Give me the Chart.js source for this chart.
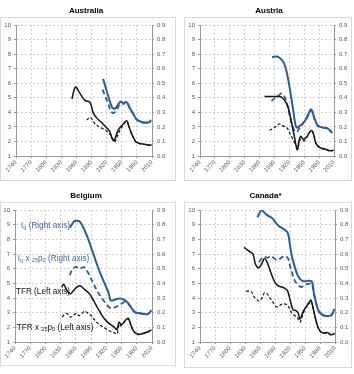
<!DOCTYPE html>
<html><head><meta charset="utf-8">
<script src="https://cdn.jsdelivr.net/npm/chart.js@4.4.1/dist/chart.umd.min.js"></script>
<style>
html,body{margin:0;padding:0;background:#fff;}
body{width:354px;height:374px;overflow:hidden;position:relative;font-family:"Liberation Sans",Arial,sans-serif;}
.box{position:absolute;border:1px solid #d9d9d9;box-sizing:border-box;}
canvas{position:absolute;}
</style></head><body>
<div class="box" style="left:0;top:17px;width:176px;height:164px"></div>
<div class="box" style="left:184px;top:17px;width:168px;height:164px"></div>
<div class="box" style="left:0;top:202px;width:176px;height:164px"></div>
<div class="box" style="left:184px;top:202px;width:168px;height:166px"></div>
<canvas id="c1" width="172" height="184" style="left:0;top:0"></canvas>
<canvas id="c2" width="170" height="184" style="left:184px;top:0"></canvas>
<canvas id="c3" width="172" height="184" style="left:0;top:185px"></canvas>
<canvas id="c4" width="177" height="184" style="left:177px;top:185px"></canvas>
<script>
// ---------- axis settings ----------
const yearMin = 1740, yearMax = 2010, yearStep = 30;
const leftMin = 1, leftMax = 10, leftStep = 1;
const rightMin = 0, rightMax = 0.9, rightStep = 0.1;
const panelTitles = ["Australia", "Austria", "Belgium", "Canada*"];

// ---------- Australia ----------
const ausTfrYears = [1851,1858,1867,1877,1887,1893,1900,1910,1917,1926,1931,1935,1943,1953,1960,1963,1970,1978,1986,1996,2006,2009];
const ausTfrValues = [4.92,5.74,5.3,4.82,4.68,4.0,3.62,3.3,3.05,2.7,2.17,2.05,2.8,3.2,3.43,3.15,2.5,1.98,1.86,1.8,1.74,1.8];
const ausTfrPYears = [1880,1888,1897,1907,1920,1930,1936,1944,1953,1960,1963,1970,1978,1986,1996,2006,2009];
const ausTfrPValues = [3.47,3.65,3.2,2.97,2.72,2.33,1.98,2.6,3.15,3.4,3.12,2.48,1.97,1.85,1.79,1.73,1.79];
const ausIgYears = [1913,1918,1924,1930,1934,1938,1943,1948,1953,1957,1961,1966,1972,1979,1988,1998,2004,2008];
const ausIgValues = [0.53,0.47,0.40,0.34,0.325,0.33,0.355,0.375,0.36,0.37,0.365,0.33,0.295,0.255,0.235,0.23,0.232,0.247];
const ausIgPYears = [1912,1917,1922,1927,1932,1936,1940,1945,1950,1953,1957,1961,1966,1972,1979,1988,1998,2004,2008];
const ausIgPValues = [0.457,0.41,0.37,0.32,0.295,0.3,0.32,0.35,0.37,0.358,0.367,0.362,0.327,0.292,0.252,0.232,0.227,0.229,0.244];

// ---------- Austria ----------
const autTfrYears = [1870,1880,1890,1900,1906,1912,1918,1925,1931,1936,1940,1943,1948,1955,1960,1965,1968,1974,1982,1992,2001,2009];
const autTfrValues = [5.08,5.08,5.08,5.08,5.0,4.75,4.3,3.2,2.2,1.42,2.1,2.35,2.15,2.3,2.6,2.75,2.6,1.85,1.57,1.48,1.37,1.4];
const autTfrPYears = [1880,1890,1900,1908,1915,1922,1928,1933,1937,1941,1946,1950,1955,1960,1965,1968,1974,1982,1992,2001,2009];
const autTfrPValues = [2.75,2.95,3.2,3.05,2.95,2.5,2.1,1.75,1.55,2.1,2.05,2.05,2.28,2.58,2.72,2.58,1.83,1.55,1.46,1.35,1.38];
const autIgYears = [1885,1895,1902,1908,1913,1918,1923,1928,1932,1935,1940,1946,1952,1958,1963,1966,1971,1977,1982,1990,1997,2002,2006];
const autIgValues = [0.68,0.683,0.67,0.645,0.6,0.52,0.42,0.31,0.22,0.195,0.205,0.22,0.245,0.285,0.32,0.31,0.255,0.21,0.2,0.195,0.19,0.175,0.16];
const autIgPYears = [1884,1892,1900,1904,1910,1916,1922,1928,1932,1936,1942,1948,1953,1958,1963,1966,1971,1977,1982,1990,1997,2002,2006];
const autIgPValues = [0.378,0.4,0.42,0.43,0.41,0.35,0.26,0.19,0.165,0.17,0.2,0.225,0.245,0.28,0.315,0.305,0.252,0.208,0.198,0.193,0.188,0.173,0.158];

// ---------- Belgium ----------
const belTfrYears = [1832,1836,1841,1846,1850,1855,1860,1867,1872,1878,1885,1892,1898,1904,1910,1917,1924,1930,1936,1941,1945,1949,1954,1958,1963,1967,1972,1978,1985,1993,2001,2009];
const belTfrValues = [4.76,4.93,4.6,4.35,4.3,4.5,4.68,4.83,4.75,4.55,4.35,4.0,3.62,3.25,2.9,2.55,2.3,2.15,2.0,1.85,2.35,2.2,2.3,2.5,2.62,2.3,1.85,1.6,1.52,1.6,1.68,1.82];
const belTfrPYears = [1833,1837,1842,1846,1850,1855,1861,1866,1871,1877,1884,1890,1897,1904,1910,1917,1924,1930,1936,1941,1945,1948,1952,1958,1963,1967,1972,1978,1985,1993,2001,2009];
const belTfrPValues = [2.7,2.85,2.95,2.8,2.7,2.82,2.95,2.8,2.9,3.1,2.95,2.8,2.5,2.25,2.1,1.95,1.8,1.7,1.62,1.55,2.2,2.1,2.25,2.45,2.58,2.27,1.83,1.58,1.5,1.58,1.66,1.8];
const belIgYears = [1848,1852,1857,1862,1867,1872,1878,1884,1890,1896,1902,1908,1914,1919,1924,1928,1933,1938,1943,1948,1953,1958,1963,1968,1973,1978,1984,1990,1996,2001,2005,2009];
const belIgValues = [0.78,0.8,0.825,0.827,0.823,0.8,0.755,0.705,0.645,0.585,0.525,0.47,0.42,0.38,0.34,0.285,0.283,0.29,0.295,0.297,0.29,0.28,0.265,0.24,0.215,0.2,0.198,0.195,0.19,0.19,0.2,0.218];
const belIgPYears = [1848,1852,1856,1861,1866,1871,1876,1881,1886,1891,1896,1901,1907,1914,1920,1926,1931,1936,1942,1947,1953,1958,1963,1968,1973,1978,1984,1990,1996,2001,2005,2009];
const belIgPValues = [0.455,0.49,0.505,0.512,0.5,0.505,0.51,0.49,0.46,0.422,0.39,0.353,0.32,0.285,0.26,0.235,0.23,0.235,0.245,0.255,0.268,0.275,0.262,0.238,0.213,0.198,0.196,0.193,0.188,0.188,0.198,0.216];

// ---------- Canada ----------
const canTfrYears = [1828,1834,1840,1846,1851,1857,1863,1869,1874,1880,1886,1892,1898,1904,1910,1915,1920,1926,1931,1936,1940,1946,1952,1958,1962,1966,1971,1976,1981,1988,1995,2001,2006,2009];
const canTfrValues = [7.45,7.3,7.15,7.0,6.3,6.05,6.3,6.7,6.45,5.9,5.35,4.95,4.8,4.75,4.65,4.5,3.9,3.2,3.15,3.0,2.55,3.05,3.4,3.7,3.85,3.35,2.6,2.0,1.72,1.6,1.65,1.5,1.52,1.6];
const canTfrPYears = [1832,1838,1843,1848,1853,1858,1863,1869,1874,1879,1885,1891,1896,1902,1908,1914,1919,1924,1929,1934,1940,1946,1952,1958,1962,1966,1971,1976,1981,1988,1995,2001,2006,2009];
const canTfrPValues = [4.47,4.47,4.42,4.1,3.9,3.8,3.95,4.35,4.3,4.05,3.75,3.45,3.4,3.55,3.6,3.55,3.3,2.95,2.8,2.7,2.35,2.9,3.35,3.62,3.78,3.32,2.58,1.98,1.7,1.58,1.63,1.48,1.5,1.58];
const canIgYears = [1855,1859,1863,1868,1874,1880,1886,1892,1898,1905,1911,1916,1920,1924,1929,1934,1940,1946,1952,1958,1964,1968,1972,1977,1983,1990,1997,2003,2009];
const canIgValues = [0.85,0.88,0.9,0.885,0.865,0.855,0.84,0.81,0.79,0.775,0.76,0.74,0.66,0.58,0.52,0.465,0.43,0.415,0.415,0.418,0.41,0.33,0.27,0.215,0.19,0.18,0.178,0.185,0.225];
const canIgPYears = [1858,1864,1869,1875,1881,1887,1893,1899,1905,1911,1916,1920,1925,1930,1936,1942,1948,1954,1960,1964,1968,1972,1977,1983,1990,1997,2003,2009];
const canIgPValues = [0.545,0.57,0.58,0.575,0.585,0.575,0.56,0.565,0.58,0.585,0.57,0.52,0.46,0.415,0.39,0.375,0.385,0.395,0.398,0.395,0.325,0.268,0.213,0.188,0.178,0.176,0.183,0.223];

// ---------- Belgium in-chart labels (anchored at the label's right end, in data units) ----------
const belLabelYears = [1848.5, 1886.5, 1848.5, 1894.5];
const belLabelValues = [8.93, 6.70, 4.42, 1.95];

const FONT = "'Liberation Sans', Arial, sans-serif";
const BLUE = '#2f5c95';
const BLUE_TEXT = '#47699a';
const BLACK = '#141414';
const TICK = '#595959';
const GRID = '#d2d2d2';
const AXIS = '#9a9a9a';

function pts(xs, ys){ return xs.map((x, i) => ({x: x, y: ys[i]})); }

function ds(xs, ys, axis, color, width, dash){
  return {data: pts(xs, ys), yAxisID: axis, borderColor: color, borderWidth: width,
    borderDash: dash, pointRadius: 0, fill: false, tension: 0.35, spanGaps: true};
}

function notesPlugin(items){
  return {
    id: 'notes',
    afterDatasetsDraw(chart){
      if (!items) return;
      const c = chart.ctx, xs = chart.scales.x, ys = chart.scales.y;
      const big = 8.2, small = 5.6;
      c.save();
      c.textBaseline = 'middle';
      c.textAlign = 'left';
      items.forEach(it => {
        let w = 0;
        it.parts.forEach(p => {
          c.font = (p.sub ? small : big) + 'px ' + FONT;
          p.w = c.measureText(p.t).width; w += p.w;
        });
        let x = xs.getPixelForValue(it.x) - w;
        const y = ys.getPixelForValue(it.y);
        c.fillStyle = it.color;
        it.parts.forEach(p => {
          c.font = (p.sub ? small : big) + 'px ' + FONT;
          c.fillText(p.t, x, p.sub ? y + 1.8 : y);
          x += p.w;
        });
      });
      c.restore();
    }
  };
}

function makePanel(id, title, leftW, rightW, bottomH, s, notes){
  const tickFont = {family: FONT, size: 6};
  new Chart(document.getElementById(id), {
    type: 'line',
    data: {datasets: [
      ds(s[4], s[5], 'y1', BLUE, 2, []),
      ds(s[0], s[1], 'y', BLACK, 1.5, []),
      ds(s[6], s[7], 'y1', BLUE, 1.8, [5, 3]),
      ds(s[2], s[3], 'y', BLACK, 1.2, [3, 2])
    ]},
    options: {
      responsive: false, animation: false, events: [],
      layout: {padding: 0},
      plugins: {
        legend: {display: false}, tooltip: {enabled: false},
        title: {display: true, text: title, color: '#000',
          font: {family: FONT, size: 8, weight: 'bold', lineHeight: 1.2},
          padding: {top: 6.2, bottom: 9.2}}
      },
      scales: {
        x: {type: 'linear', min: yearMin, max: yearMax,
          ticks: {stepSize: yearStep, minRotation: 45, maxRotation: 45, autoSkip: false,
            font: tickFont, color: TICK, padding: 1, callback: v => String(v)},
          grid: {color: GRID, drawTicks: true, tickLength: 2, tickColor: AXIS},
          border: {color: AXIS, dash: [2, 2]},
          afterFit: sc => { sc.height = bottomH; }},
        y: {position: 'left', min: leftMin, max: leftMax,
          ticks: {stepSize: leftStep, font: tickFont, color: TICK, padding: 3},
          grid: {color: GRID, drawTicks: true, tickLength: 2, tickColor: AXIS},
          border: {color: AXIS, dash: [2, 2]},
          afterFit: sc => { sc.width = leftW; }},
        y1: {position: 'right', min: rightMin, max: rightMax,
          ticks: {stepSize: rightStep, font: tickFont, color: TICK, padding: 3,
            callback: v => Number(v).toFixed(1)},
          grid: {drawOnChartArea: false, drawTicks: true, tickLength: 2, color: AXIS},
          border: {color: AXIS},
          afterFit: sc => { sc.width = rightW; }}
      }
    },
    plugins: [notesPlugin(notes)]
  });
}

makePanel('c1', panelTitles[0], 16, 20, 28,
  [ausTfrYears, ausTfrValues, ausTfrPYears, ausTfrPValues, ausIgYears, ausIgValues, ausIgPYears, ausIgPValues]);
makePanel('c2', panelTitles[1], 16, 20, 28,
  [autTfrYears, autTfrValues, autTfrPYears, autTfrPValues, autIgYears, autIgValues, autIgPYears, autIgPValues]);
makePanel('c3', panelTitles[2], 15, 20, 27,
  [belTfrYears, belTfrValues, belTfrPYears, belTfrPValues, belIgYears, belIgValues, belIgPYears, belIgPValues],
  [
    {x: belLabelYears[0], y: belLabelValues[0], color: BLUE_TEXT, parts: [{t: 'I'}, {t: 'g', sub: true}, {t: ' (Right axis)'}]},
    {x: belLabelYears[1], y: belLabelValues[1], color: BLUE_TEXT, parts: [{t: 'I'}, {t: 'g', sub: true}, {t: ' x '}, {t: '25', sub: true}, {t: 'p'}, {t: '0', sub: true}, {t: ' (Right axis)'}]},
    {x: belLabelYears[2], y: belLabelValues[2], color: BLACK, parts: [{t: 'TFR (Left axis)'}]},
    {x: belLabelYears[3], y: belLabelValues[3], color: BLACK, parts: [{t: 'TFR x '}, {t: '25', sub: true}, {t: 'p'}, {t: '0', sub: true}, {t: ' (Left axis)'}]}
  ]);
makePanel('c4', panelTitles[3], 23, 19, 27,
  [canTfrYears, canTfrValues, canTfrPYears, canTfrPValues, canIgYears, canIgValues, canIgPYears, canIgPValues]);
</script>
</body></html>
